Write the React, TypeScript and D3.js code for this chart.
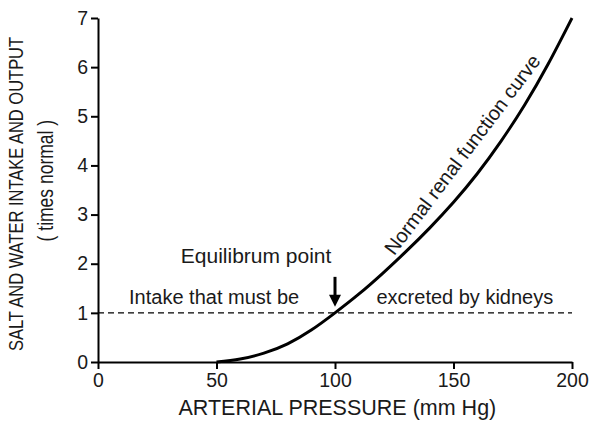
import { useEffect, useRef } from 'react'
import * as d3 from 'd3'

// renal output curve
const pressure = [50, 60, 70, 80, 90, 100, 110, 120, 130, 140, 150, 160, 170, 180, 190, 200]
const output = [0, 0.06, 0.18, 0.37, 0.65, 1.0, 1.38, 1.8, 2.25, 2.73, 3.25, 3.83, 4.49, 5.23, 6.07, 7.0]

const xTicks = [0, 50, 100, 150, 200]
const yTicks = [0, 1, 2, 3, 4, 5, 6, 7]
const intakeLevel = 1
const equilibrium = { p: 100, v: 1 }

const W = 590
const H = 427
const M = { top: 18, right: 18, bottom: 65, left: 98 }
const FONT = '"Liberation Sans", Arial, sans-serif'
const INK = '#1a1a1a'

export default function App() {
  const svgRef = useRef<SVGSVGElement>(null)

  useEffect(() => {
    document.body.style.margin = '0'
    const svg = d3.select(svgRef.current)
    svg.selectAll('*').remove()
    svg.attr('width', W).attr('height', H).attr('viewBox', `0 0 ${W} ${H}`)
      .style('font-family', FONT).style('background', '#fff')

    const x = d3.scaleLinear().domain([0, 200]).range([M.left, W - M.right])
    const y = d3.scaleLinear().domain([0, 7]).range([H - M.bottom, M.top])

    // ── axes ──
    const ax = svg.append('g').attr('transform', `translate(0,${y(0)})`)
      .call(d3.axisBottom(x).tickValues(xTicks).tickFormat(d3.format('d'))
        .tickSize(7).tickPadding(4).tickSizeOuter(0))
    ax.select('.domain').attr('stroke', '#000').attr('stroke-width', 2)
    ax.selectAll('.tick line').attr('stroke', '#000').attr('stroke-width', 2)
    ax.selectAll('.tick text').attr('font-size', 19.5).attr('fill', INK).style('font-family', FONT)

    const ay = svg.append('g').attr('transform', `translate(${x(0)},0)`)
      .call(d3.axisLeft(y).tickValues(yTicks).tickFormat(d3.format('d'))
        .tickSize(7).tickPadding(3).tickSizeOuter(0))
    ay.select('.domain').attr('stroke', '#000').attr('stroke-width', 2)
    ay.selectAll('.tick line').attr('stroke', '#000').attr('stroke-width', 2)
    ay.selectAll('.tick text').attr('font-size', 19.5).attr('fill', INK).style('font-family', FONT)

    // ── intake line ──
    svg.append('line')
      .attr('x1', x(0)).attr('x2', x(200))
      .attr('y1', y(intakeLevel)).attr('y2', y(intakeLevel))
      .attr('stroke', '#000').attr('stroke-width', 1.3).attr('stroke-dasharray', '6 4')

    // ── renal function curve ──
    const pts = pressure.map((p, i) => [p, output[i]] as [number, number])
    const line = d3.line<[number, number]>().x((d) => x(d[0])).y((d) => y(d[1])).curve(d3.curveNatural)
    svg.append('path').datum(pts).attr('d', line)
      .attr('fill', 'none').attr('stroke', '#000').attr('stroke-width', 3)

    // ── labels ──
    const txt = (tx: number, ty: number, s: string, size: number, anchor = 'middle') =>
      svg.append('text').attr('x', tx).attr('y', ty).attr('text-anchor', anchor)
        .attr('font-size', size).attr('fill', INK).text(s)

    txt(x(49), y(1) - 9, 'Intake that must be', 20)
    txt(x(154.8), y(1) - 9, 'excreted by kidneys', 20)
    txt(x(66.7), y(2) - 1, 'Equilibrum point', 21)

    // arrow to equilibrium point
    const ex = x(equilibrium.p)
    const ey = y(equilibrium.v)
    svg.append('line').attr('x1', ex).attr('x2', ex).attr('y1', ey - 36).attr('y2', ey - 16)
      .attr('stroke', '#000').attr('stroke-width', 3)
    svg.append('path')
      .attr('d', `M${ex - 6},${ey - 18} L${ex + 6},${ey - 18} L${ex},${ey - 6} Z`)
      .attr('fill', '#000')

    // curve label
    svg.append('text')
      .attr('transform', `translate(${x(125)},${y(2.15)}) rotate(-53)`)
      .attr('font-size', 20).attr('fill', INK).text('Normal renal function curve')

    txt(x(101), H - 12, 'ARTERIAL PRESSURE (mm Hg)', 21.5)

    // y title (glyphs a little wider, as in the reference)
    svg.append('text')
      .attr('transform', `translate(23,${y(3.5) + 4}) scale(1.22,1) rotate(-90)`)
      .attr('text-anchor', 'middle').attr('font-size', 16.5).attr('fill', INK)
      .text('SALT AND WATER INTAKE AND OUTPUT')
    svg.append('text')
      .attr('transform', `translate(53,${y(3.69)}) scale(1.22,1) rotate(-90)`)
      .attr('text-anchor', 'middle').attr('font-size', 17.5).attr('fill', INK)
      .text('( times normal )')
  }, [])

  return <svg ref={svgRef} />
}
